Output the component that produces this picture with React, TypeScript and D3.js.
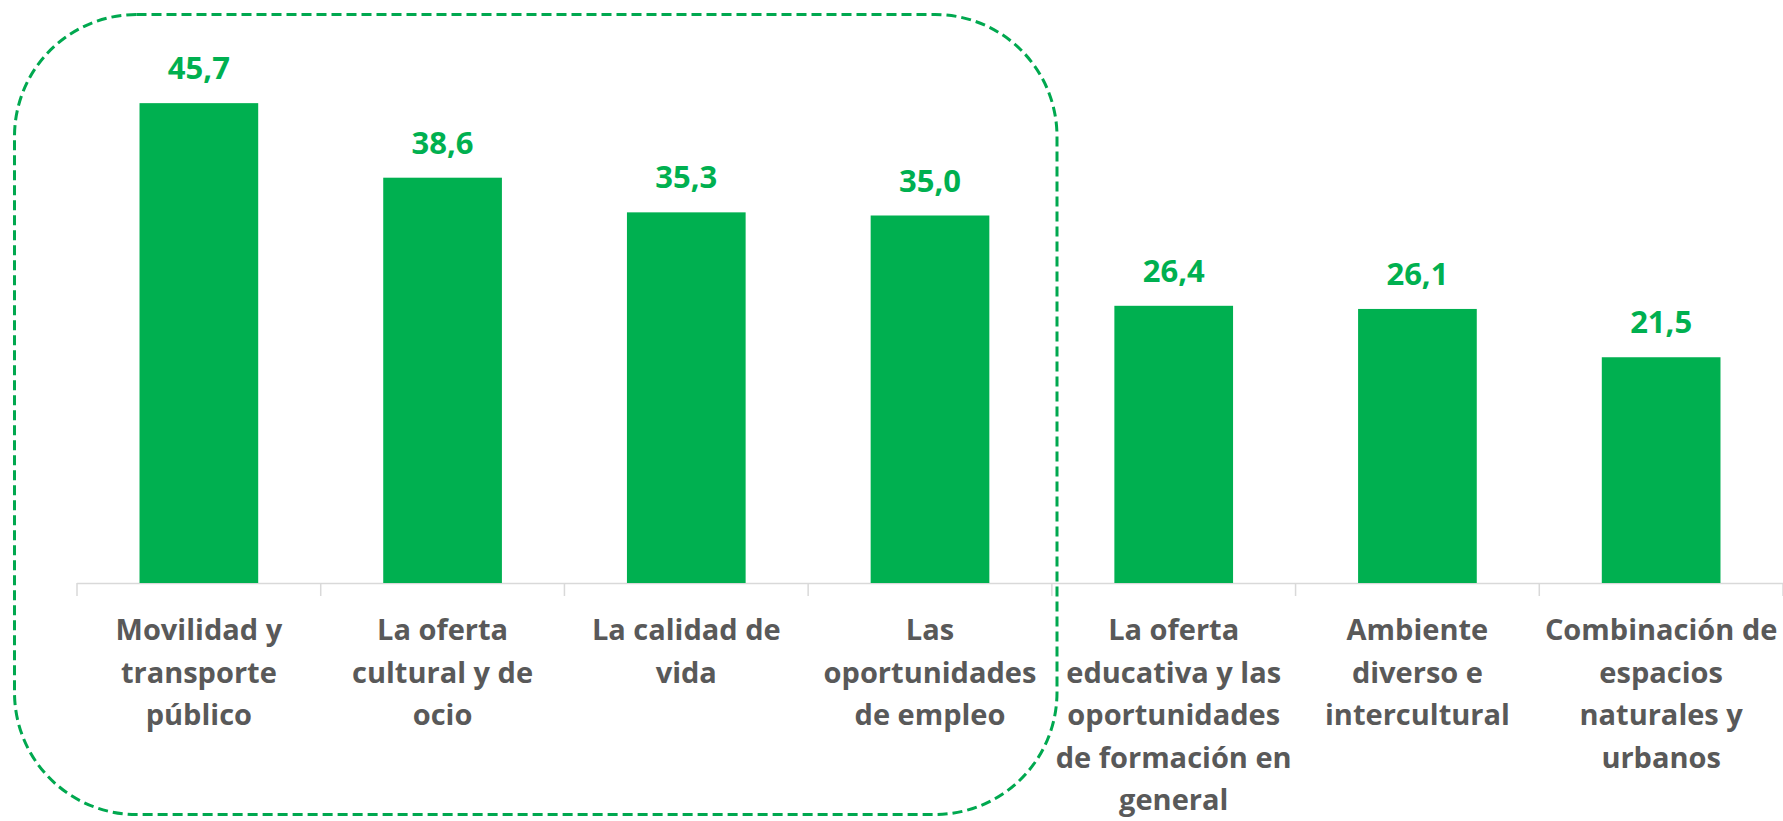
import React from 'react';
import { scaleBand, scaleLinear, formatLocale } from 'd3';

// values (percentages)
const categories = [
  'Movilidad y transporte público',
  'La oferta cultural y de ocio',
  'La calidad de vida',
  'Las oportunidades de empleo',
  'La oferta educativa y las oportunidades de formación en general',
  'Ambiente diverso e intercultural',
  'Combinación de espacios naturales y urbanos',
];
const values = [45.7, 38.6, 35.3, 35.0, 26.4, 26.1, 21.5];
const labelLines = [
  ['Movilidad y', 'transporte', 'público'],
  ['La oferta', 'cultural y de', 'ocio'],
  ['La calidad de', 'vida'],
  ['Las', 'oportunidades', 'de empleo'],
  ['La oferta', 'educativa y las', 'oportunidades', 'de formación en', 'general'],
  ['Ambiente', 'diverso e', 'intercultural'],
  ['Combinación de', 'espacios', 'naturales y', 'urbanos'],
];

const W = 1783;
const H = 821;
const GREEN = '#00B050';
const GRAY = '#595959';
const FONT = "'Open Sans', sans-serif";

const fmt = formatLocale({ decimal: ',', thousands: '.', grouping: [3], currency: ['', '€'] }).format('.1f');

const App = () => {
  const baseY = 583;
  const x = scaleBand<string>()
    .domain(categories)
    .range([77, 1783])
    .paddingInner(0.513)
    .paddingOuter(0.2565);
  const y = scaleLinear().domain([0, 50]).range([baseY, 58]);
  const step = x.step();
  const x0 = x.range()[0];
  const ticks = categories.map((_, i) => x0 + i * step).concat([x0 + categories.length * step]);

  return (
    <svg
      width={W}
      height={H}
      style={{ position: 'absolute', left: 0, top: 0, background: '#fff' }}
      fontFamily={FONT}
    >
      {/* highlight box around the first four categories */}
      <rect
        x={14.5}
        y={14.5}
        width={1042.5}
        height={800}
        rx={122}
        ry={122}
        fill="none"
        stroke="#00A84F"
        strokeWidth={3}
        strokeDasharray="10 5"
      />

      {/* axis */}
      <line x1={x0} x2={W} y1={baseY + 0.5} y2={baseY + 0.5} stroke="#d9d9d9" strokeWidth={1.5} />
      {ticks.map((t, i) => (
        <line key={i} x1={t} x2={t} y1={baseY} y2={baseY + 13} stroke="#d9d9d9" strokeWidth={1.5} />
      ))}

      {categories.map((c, i) => (
        <g key={c}>
          <rect
            x={x(c)}
            y={y(values[i])}
            width={x.bandwidth()}
            height={baseY - y(values[i])}
            fill={GREEN}
          />
          <text
            x={x(c)! + x.bandwidth() / 2}
            y={y(values[i]) - 24}
            textAnchor="middle"
            fontSize={31}
            fontWeight={700}
            fill={GREEN}
          >
            {fmt(values[i])}
          </text>
          <text textAnchor="middle" fontSize={29} fontWeight={700} fill={GRAY}>
            {labelLines[i].map((ln, j) => (
              <tspan key={j} x={x(c)! + x.bandwidth() / 2} y={640 + j * 42.5}>
                {ln}
              </tspan>
            ))}
          </text>
        </g>
      ))}
    </svg>
  );
};

export default App;
